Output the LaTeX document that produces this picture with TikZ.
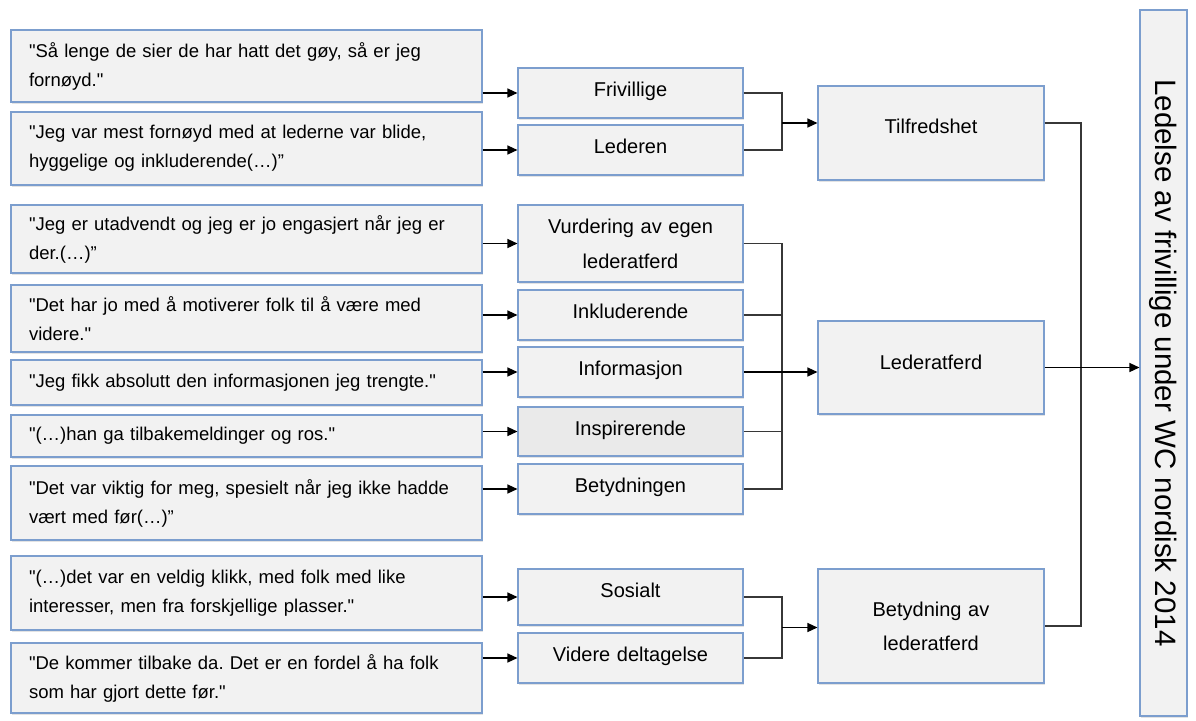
\documentclass[tikz,border=0pt]{standalone}
\usepackage{fontspec}
\setmainfont{Liberation Sans}[Ligatures=TeXOff]
\usetikzlibrary{arrows.meta,shadows}
\definecolor{boxblue}{RGB}{124,158,206}
\definecolor{boxgray}{RGB}{242,242,242}
\definecolor{boxgraydark}{RGB}{234,234,234}
\definecolor{linkgray}{RGB}{55,55,55}
\frenchspacing

\begin{document}
\begin{tikzpicture}[x=1pt, y=-1pt,
  box/.style = {draw=boxblue, fill=boxgray, line width=1.1pt, drop shadow={shadow xshift=0.6pt, shadow yshift=-2pt, opacity=0.22}},
  quote/.style = {box, minimum width=471pt, text width=435pt, inner xsep=0pt, align=left, font=\fontsize{18.5}{29}\selectfont},
  mid/.style = {box, minimum width=225pt, minimum height=50pt, text width=215pt, inner xsep=0pt, align=center, text depth=7pt, font=\fontsize{20}{35}\selectfont},
  grp/.style = {box, minimum width=226pt, text width=216pt, inner xsep=0pt, align=center, font=\fontsize{20}{34}\selectfont},
  arr/.style = {-{Triangle[length=10pt,width=9pt]}, line width=1.3pt, black},
  link/.style = {draw=linkgray, line width=1.1pt}]

\useasboundingbox (0,0) rectangle (1196,720);

%% quotes
\node[quote, minimum height=72pt] (q1) at (246.5,66) {"Så lenge de sier de har hatt det gøy, så er jeg\\fornøyd."};
\node[quote, minimum height=73pt] (q2) at (246.5,148.5) {"Jeg var mest fornøyd med at lederne var blide,\\hyggelige og inkluderende(…)”};
\node[quote, minimum height=68pt] (q3) at (246.5,239) {"Jeg er utadvendt og jeg er jo engasjert når jeg er\\der.(…)”};
\node[quote, minimum height=67pt] (q4) at (246.5,318.5) {"Det har jo med å motiverer folk til å være med\\videre."};
\node[quote, minimum height=45pt] (q5) at (246.5,382.5) {"Jeg fikk absolutt den informasjonen jeg trengte."};
\node[quote, minimum height=42pt] (q6) at (246.5,436) {"(…)han ga tilbakemeldinger og ros."};
\node[quote, minimum height=74pt] (q7) at (246.5,503) {"Det var viktig for meg, spesielt når jeg ikke hadde\\vært med før(…)”};
\node[quote, minimum height=74pt] (q8) at (246.5,593) {"(…)det var en veldig klikk, med folk med like\\interesser, men fra forskjellige plasser."};
\node[quote, minimum height=70pt] (q9) at (246.5,678) {"De kommer tilbake da. Det er en fordel å ha folk\\som har gjort dette før."};

%% categories
\node[mid] (m1) at (630.5,93) {Frivillige};
\node[mid] (m2) at (630.5,150) {Lederen};
\node[mid, minimum height=77pt, text depth=] (m3) at (630.5,243.5) {Vurdering av egen\\lederatferd};
\node[mid] (m4) at (630.5,315) {Inkluderende};
\node[mid] (m5) at (630.5,372) {Informasjon};
\node[mid, fill=boxgraydark, minimum height=49pt] (m6) at (630.5,431.5) {Inspirerende};
\node[mid] (m7) at (630.5,489) {Betydningen};
\node[mid, minimum height=56pt, text depth=14pt] (m8) at (630.5,597) {Sosialt};
\node[mid] (m9) at (630.5,658) {Videre deltagelse};

%% themes
\node[grp, minimum height=94pt, text depth=14pt] (g1) at (931,133) {Tilfredshet};
\node[grp, minimum height=93pt, text depth=10pt] (g2) at (931,367.5) {Lederatferd};
\node[grp, minimum height=114pt] (g3) at (931,626) {Betydning av\\lederatferd};

%% main theme
\node[box, rotate=-90, minimum width=706pt, minimum height=47pt, font=\fontsize{29.5}{30}\selectfont] (top) at (1163.5,363) {Ledelse av frivillige under WC nordisk 2014};

%% bracket points
\coordinate (b1) at (782,123);
\coordinate (b3) at (782,627.5);
\coordinate (rt) at (1081,123);
\coordinate (rb) at (1081,626);

%%% arrows from quotes
\foreach \i in {1,...,9}
  \draw[arr] (q\i.east |- m\i.west) -- (m\i.west);

%%% brackets
\draw[link] (m1.east) -| (b1) |- (m2.east);
\draw[arr] (b1) -- (b1 -| g1.west);
\draw[link] (m3.east) -| (782,489) -- (m7.east);
\draw[link] (m4.east) -- (m4.east -| b1);
\draw[link] (m6.east) -- (m6.east -| b1);
\draw[arr] (m5.east) -- (m5.east -| g2.west);
\draw[link] (m8.east) -| (b3) |- (m9.east);
\draw[arr] (b3) -- (b3 -| g3.west);

%%% to main theme
\draw[link] (g1.east |- rt) -- (rt) -- (rb) -- (g3.east);
\draw[arr] (g2.east) -- (g2.east -| top.south);

\end{tikzpicture}
\end{document}
